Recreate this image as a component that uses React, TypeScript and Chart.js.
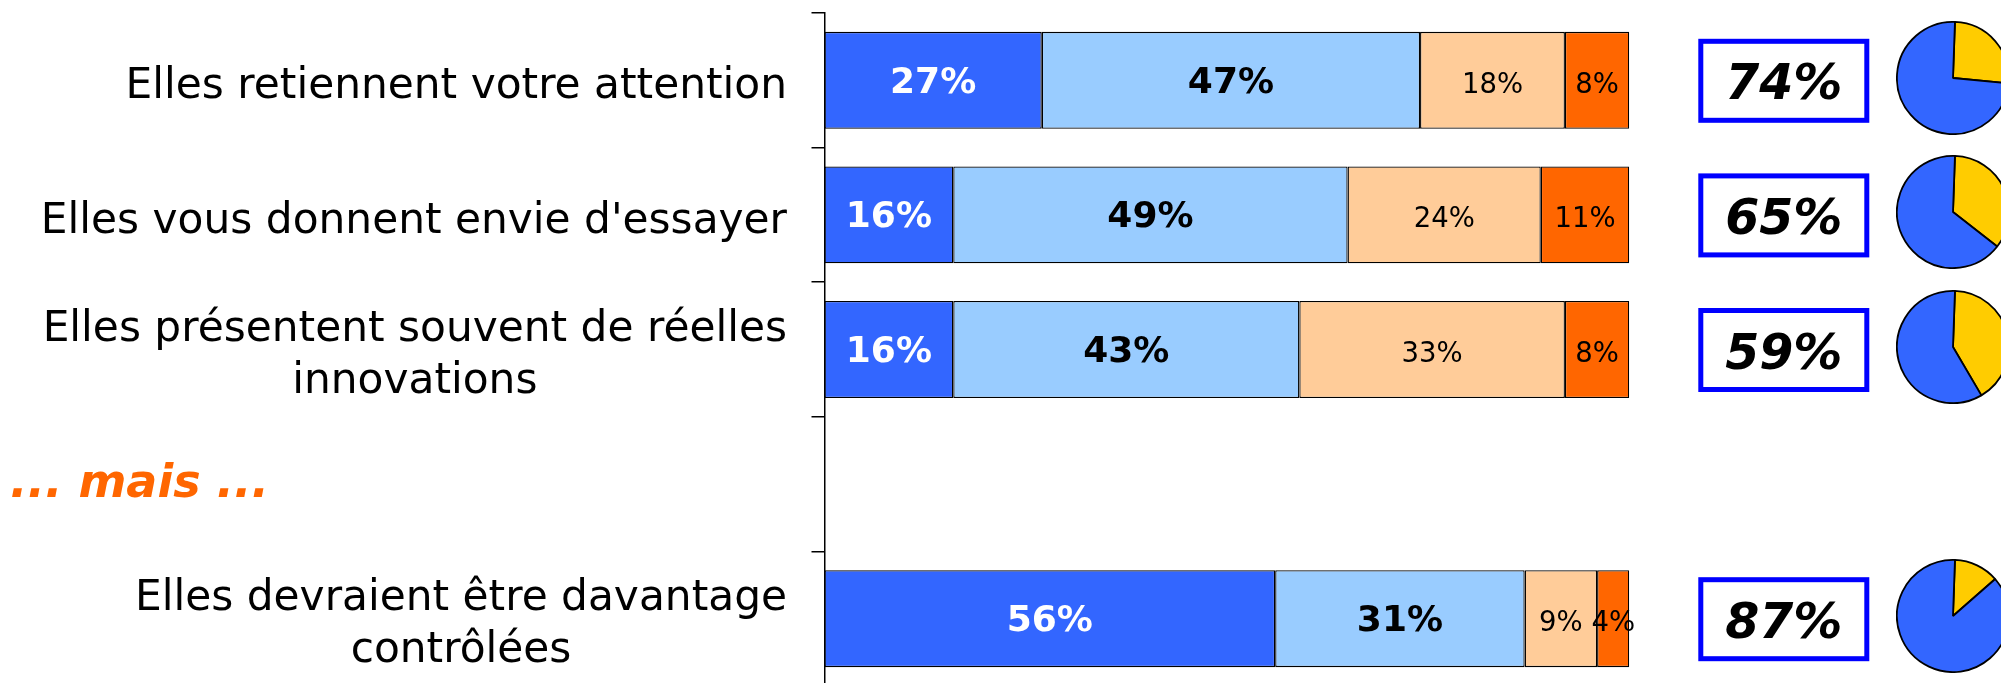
import React, { useEffect, useRef } from "react";
import { Chart, registerables } from "chart.js";

Chart.register(...registerables);

// ---------- data ----------
const categories: string[][] = [
  ["Elles retiennent votre attention"],
  ["Elles vous donnent envie d'essayer"],
  ["Elles présentent souvent de réelles", "innovations"],
  ["... mais ..."],
  ["Elles devraient être davantage", "contrôlées"],
];
const separatorLabel = "... mais ...";

const seriesNames = ["Série 1", "Série 2", "Série 3", "Série 4"];
const series1: (number | null)[] = [27, 16, 16, null, 56];
const series2: (number | null)[] = [47, 49, 43, null, 31];
const series3: (number | null)[] = [18, 24, 33, null, 9];
const series4: (number | null)[] = [8, 11, 8, null, 4];

const pieLabels = ["Série 3 + 4", "Série 1 + 2"];

// ---------- styles ----------
const FONT = "'DejaVu Sans', Verdana, sans-serif";
const seriesColors = ["#3366FF", "#99CCFF", "#FFCC99", "#FF6600"];
const labelFonts = [`bold 36px ${FONT}`, `bold 36px ${FONT}`, `27.5px ${FONT}`, `27.5px ${FONT}`];
const labelColors = ["#FFFFFF", "#000000", "#000000", "#000000"];
const pieColors = ["#FFCC00", "#3366FF"];
const PIE_SIZE = 114;

const sumOr = (a: number | null, b: number | null) =>
  a == null || b == null ? null : a + b;

const overlayPlugin = {
  id: "overlay",
  afterDatasetsDraw(chart: any) {
    const ctx: CanvasRenderingContext2D = chart.ctx;
    const ys = chart.scales.y;
    const area = chart.chartArea;
    ctx.save();

    // category labels
    categories.forEach((lines, i) => {
      const cy = ys.getPixelForValue(i);
      ctx.textBaseline = "alphabetic";
      if (lines[0] === separatorLabel) {
        ctx.font = `italic bold 46px ${FONT}`;
        ctx.fillStyle = "#FF6600";
        ctx.textAlign = "left";
        ctx.fillText(lines[0], 10, cy + 12.5);
        return;
      }
      ctx.font = `42.3px ${FONT}`;
      ctx.fillStyle = "#000000";
      ctx.textAlign = "center";
      const widest = Math.max(...lines.map((l) => ctx.measureText(l).width));
      const cx = area.left - 37.5 - widest / 2;
      const lh = 52;
      const first = cy + 17.7 - ((lines.length - 1) * lh) / 2;
      lines.forEach((l, k) => ctx.fillText(l, cx, first + k * lh));
    });

    // value labels in bars
    chart.data.datasets.forEach((ds: any, di: number) => {
      const meta = chart.getDatasetMeta(di);
      meta.data.forEach((el: any, j: number) => {
        const v = ds.data[j];
        if (v == null) return;
        const { x, base, y } = el.getProps(["x", "base", "y"], true);
        ctx.font = labelFonts[di];
        ctx.fillStyle = labelColors[di];
        ctx.textAlign = "center";
        ctx.textBaseline = "alphabetic";
        ctx.fillText(`${v}%`, (x + base) / 2, y + 12.5);
      });
    });

    // boxed totals
    categories.forEach((_, i) => {
      const total = sumOr(series1[i], series2[i]);
      if (total == null) return;
      const cx = area.right + 154.5;
      const cy = ys.getPixelForValue(i) + 0.5;
      ctx.fillStyle = "#FFFFFF";
      ctx.fillRect(cx - 83, cy - 39.5, 166, 79);
      ctx.strokeStyle = "#0000FF";
      ctx.lineWidth = 5;
      ctx.strokeRect(cx - 83, cy - 39.5, 166, 79);
      ctx.font = `italic bold 49px ${FONT}`;
      ctx.fillStyle = "#000000";
      ctx.textAlign = "center";
      ctx.textBaseline = "alphabetic";
      ctx.fillText(`${total}%`, cx, cy + 18.5);
    });

    ctx.restore();
  },
};

export default function App() {
  const mainRef = useRef<HTMLCanvasElement>(null);
  const pieCanvasRefs = useRef<(HTMLCanvasElement | null)[]>([]);
  const pieBoxRefs = useRef<(HTMLDivElement | null)[]>([]);

  useEffect(() => {
    const charts: Chart[] = [];
    const seriesData = [series1, series2, series3, series4];
    const main = new Chart(mainRef.current as HTMLCanvasElement, {
      type: "bar",
      data: {
        labels: categories.map((c) => c.join(" ")),
        datasets: seriesData.map((d, i) => ({
          label: seriesNames[i],
          data: d,
          backgroundColor: seriesColors[i],
          borderColor: "#000000",
          borderWidth: 1.3,
          borderSkipped: false,
          barPercentage: 0.72,
          categoryPercentage: 1,
        })) as any,
      },
      options: {
        indexAxis: "y",
        responsive: false,
        animation: false,
        events: [],
        layout: { padding: { left: 811.5, right: 371.7, top: 13, bottom: 14 } },
        plugins: { legend: { display: false }, tooltip: { enabled: false } },
        scales: {
          x: { stacked: true, min: 0, max: 100, display: false },
          y: {
            stacked: true,
            ticks: { display: false },
            grid: {
              display: true,
              drawOnChartArea: false,
              drawTicks: true,
              tickLength: 13,
              color: "#000000",
              lineWidth: 1.5,
              offset: true,
            },
            border: { display: true, color: "#000000", width: 1.5 },
          },
        },
      },
      plugins: [overlayPlugin],
    });
    charts.push(main);

    const area = main.chartArea;
    const ys: any = main.scales.y;
    categories.forEach((_, i) => {
      const agree = sumOr(series1[i], series2[i]);
      const disagree = sumOr(series3[i], series4[i]);
      if (agree == null || disagree == null) return;
      const box = pieBoxRefs.current[i];
      const cv = pieCanvasRefs.current[i];
      if (!box || !cv) return;
      box.style.left = `${area.right + 323.2 - PIE_SIZE / 2}px`;
      box.style.top = `${ys.getPixelForValue(i) - 2.5 - PIE_SIZE / 2}px`;
      box.style.display = "block";
      charts.push(
        new Chart(cv, {
          type: "pie",
          data: {
            labels: pieLabels,
            datasets: [
              {
                data: [disagree, agree],
                backgroundColor: pieColors,
                borderColor: "#000000",
                borderWidth: 1.8,
              },
            ],
          },
          options: {
            responsive: false,
            animation: false,
            events: [],
            rotation: 2,
            layout: { padding: 0 },
            plugins: { legend: { display: false }, tooltip: { enabled: false } },
          },
        })
      );
    });

    return () => charts.forEach((c) => c.destroy());
  }, []);

  return (
    <div
      style={{
        position: "absolute",
        left: 0,
        top: 0,
        width: 2001,
        height: 683,
        overflow: "hidden",
        background: "#FFFFFF",
      }}
    >
      <canvas
        ref={mainRef}
        width={2001}
        height={700}
        style={{ position: "absolute", left: 0, top: 0, width: 2001, height: 700 }}
      />
      {categories.map((_, i) => (
        <div
          key={i}
          ref={(el) => {
            pieBoxRefs.current[i] = el;
          }}
          style={{ position: "absolute", width: PIE_SIZE, height: PIE_SIZE, display: "none" }}
        >
          <canvas
            ref={(el) => {
              pieCanvasRefs.current[i] = el;
            }}
            width={PIE_SIZE}
            height={PIE_SIZE}
            style={{ width: PIE_SIZE, height: PIE_SIZE }}
          />
        </div>
      ))}
    </div>
  );
}
